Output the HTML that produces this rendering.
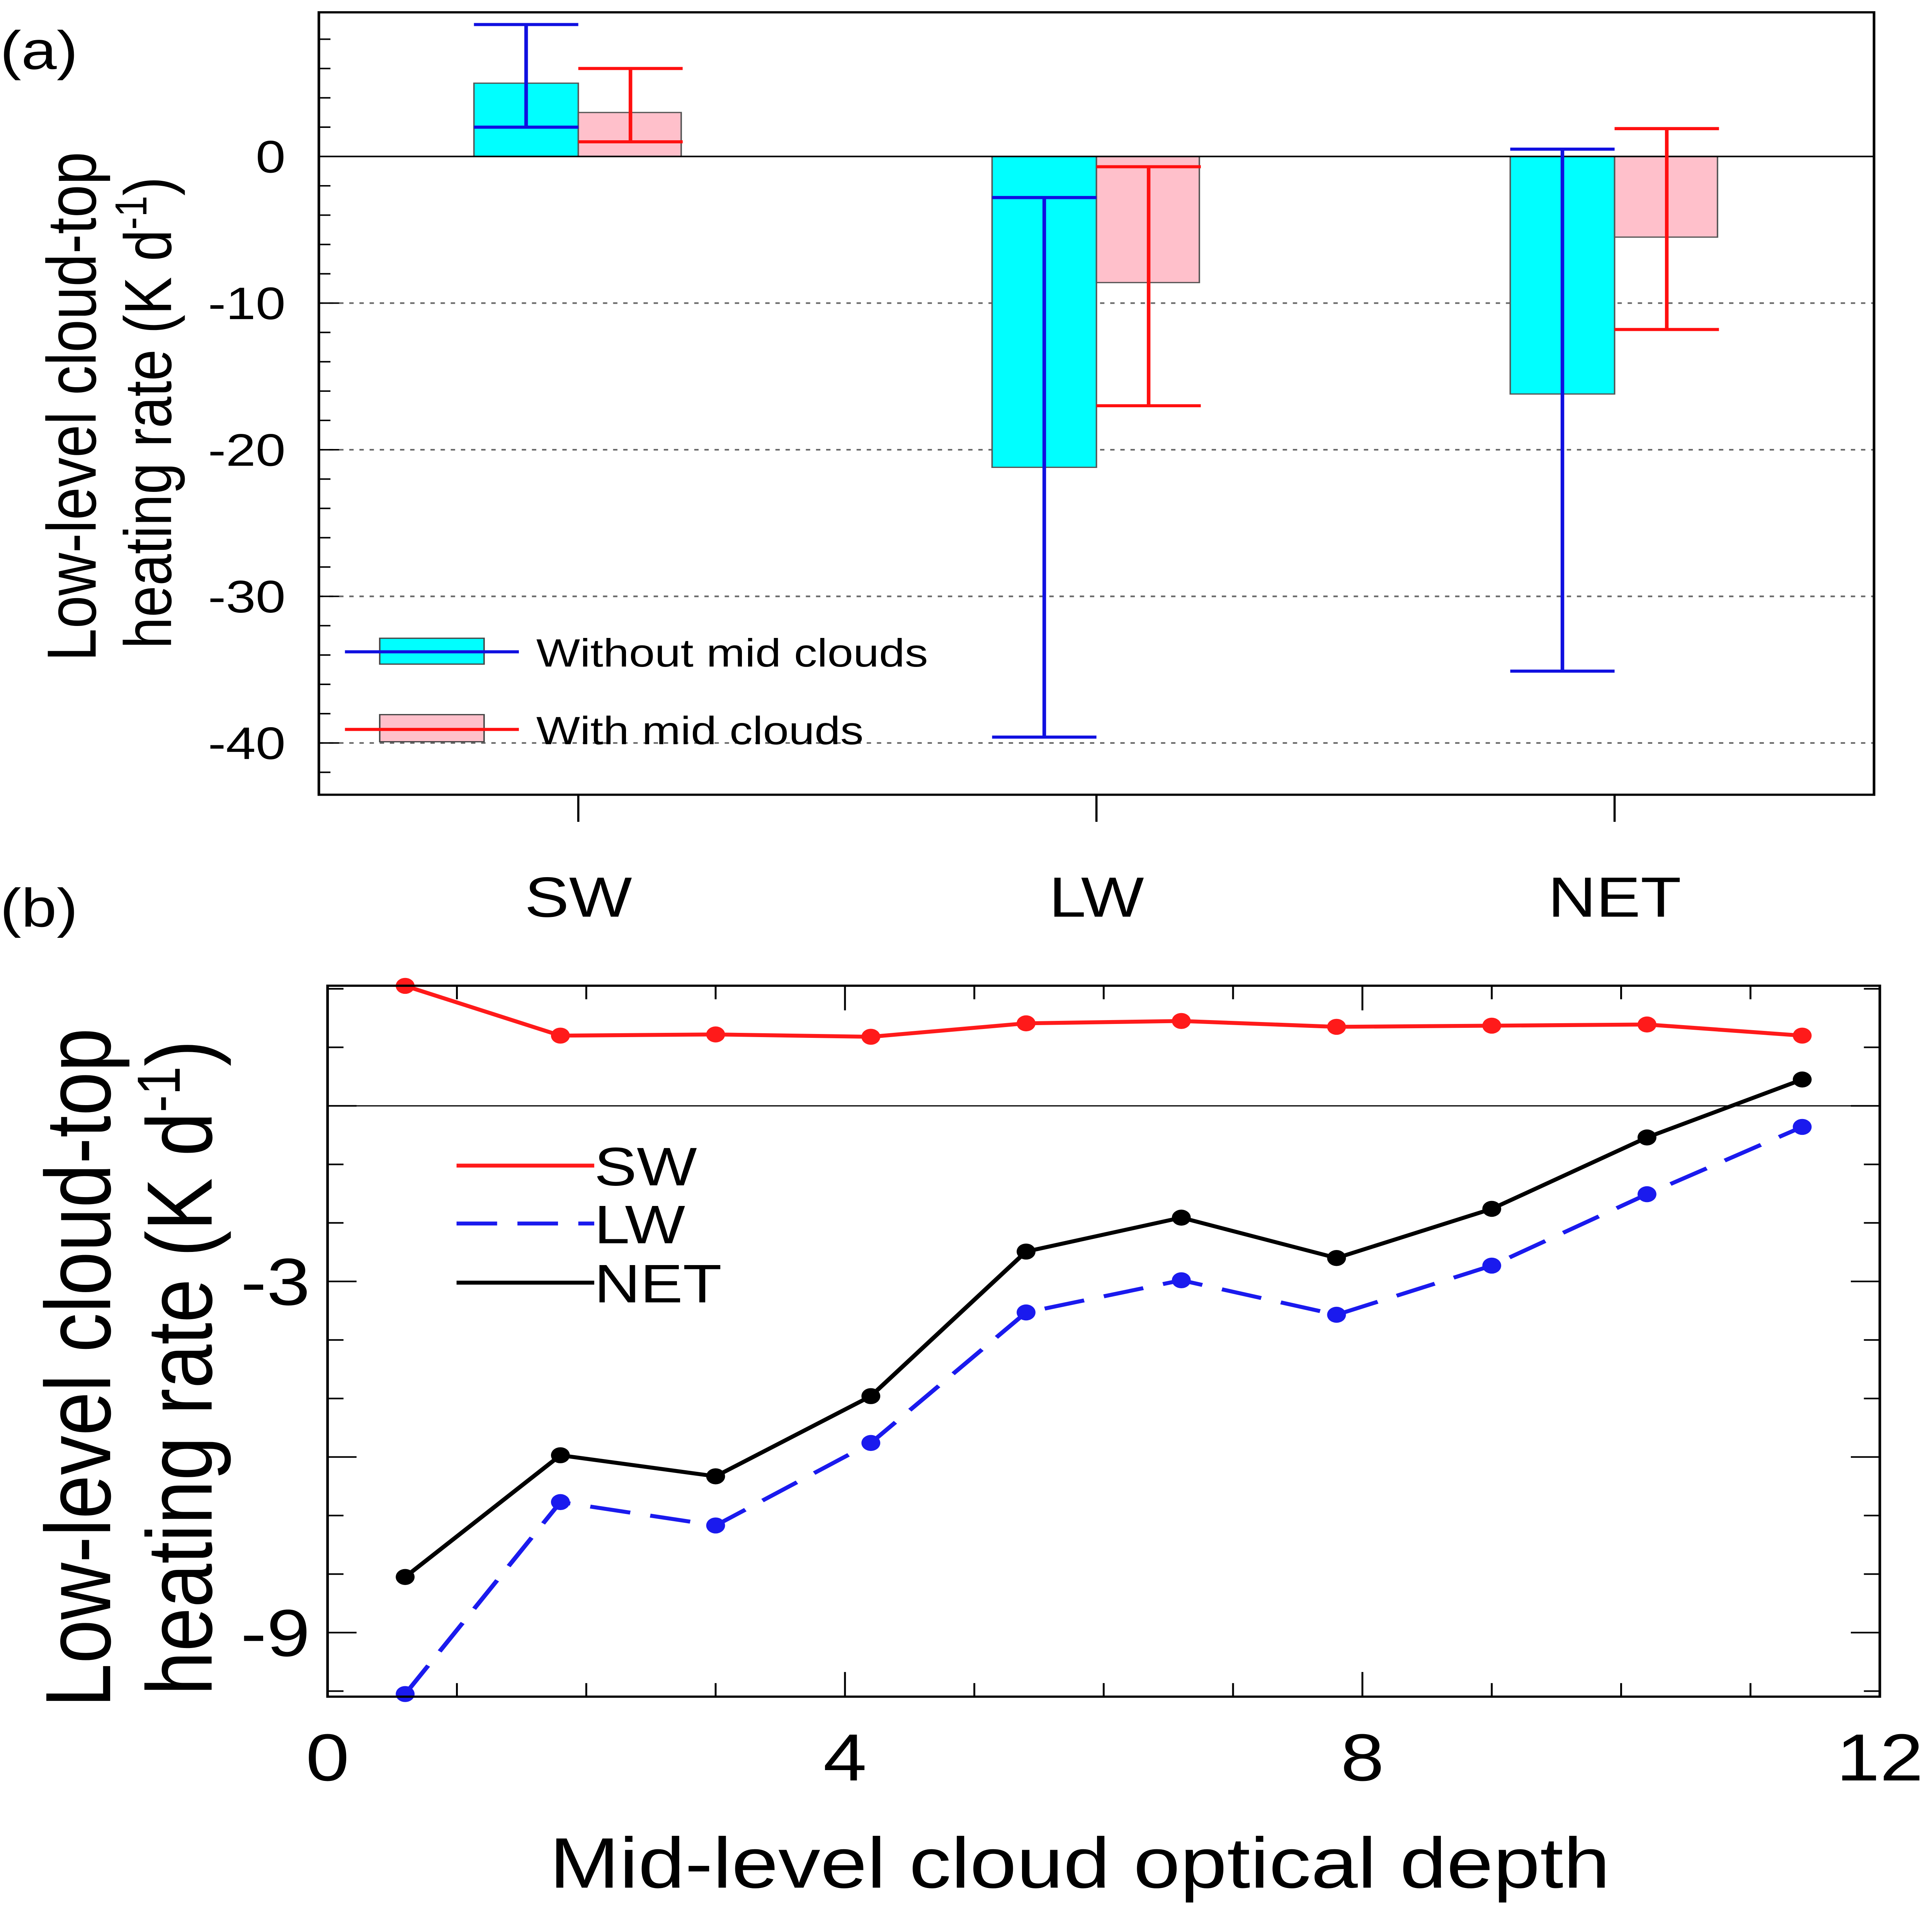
<!DOCTYPE html>
<html><head><meta charset="utf-8"><style>
html,body{margin:0;padding:0;background:#fff;width:100%;height:100%;overflow:hidden;}
svg{display:block;font-family:"Liberation Sans",Arial,sans-serif;position:fixed;left:0;top:0;width:100vw;height:100vh;}
</style></head><body>
<svg id="s" viewBox="0 0 1333 1568" preserveAspectRatio="none" xmlns="http://www.w3.org/2000/svg">
<rect width="1333" height="1568" fill="#fff"/>
<text x="0" y="56" font-size="44">(a)</text>
<text x="0" y="752" font-size="44">(b)</text>
<g id="ga"></g>
<g id="gb"></g>
</svg>
<script>
// Panel (a) data
const catsA = ["SW","LW","NET"];
const withoutVals = [5, -21.2, -16.2];
const withVals = [3, -8.6, -5.5];
const withoutCenter = [2, -2.8, 0.5];
const withoutUpper = [9, -2.8, 0.5];
const withoutLower = [2, -39.6, -35.1];
const withCenter = [1, -0.7, 1.9];
const withUpper = [6, -0.7, 1.9];
const withLower = [1, -17, -11.8];
const yTicksA = [0, -10, -20, -30, -40];
// Panel (b) data
const depthX = [0.6,1.8,3.0,4.2,5.4,6.6,7.8,9.0,10.2,11.4];
const swY = [2.05,1.2,1.22,1.18,1.41,1.45,1.35,1.37,1.39,1.2];
const lwY = [-10.05,-6.77,-7.17,-5.76,-3.53,-2.98,-3.57,-2.73,-1.51,-0.36];
const netY = [-8.05,-5.97,-6.33,-4.96,-2.49,-1.91,-2.6,-1.76,-0.54,0.45];
const xTicksB = [0,4,8,12];
const yTicksB = [-3,-9];

const NS="http://www.w3.org/2000/svg";
function mk(p,tag,at,txt){const e=document.createElementNS(NS,tag);for(const k in at)e.setAttribute(k,at[k]);if(txt!==undefined)e.textContent=txt;p.appendChild(e);return e;}

// ---- Panel A
const ga=document.getElementById('ga');
const L=220,R=1293,T=10,B=645;
const ya=v=>127-v*11.9;
const xa=i=>399+i*357.5;
for(const t of [-10,-20,-30,-40]){
  const l=mk(ga,'line',{x1:L,x2:R,y1:ya(t),y2:ya(t),stroke:'#666','stroke-width':1.3,'stroke-dasharray':'3,4'});
  
  
}
for(let v=8;v>=-42;v-=2){
  const big=v%10===0;
  const t=mk(ga,'line',{x1:L,x2:L+(big?14:8),y1:ya(v),y2:ya(v),stroke:'#000','stroke-width':1.2});
  
  
}
for(const v of yTicksA){
  const t=mk(ga,'text',{x:197,y:ya(v)+13,'font-size':37,'text-anchor':'end'},v===0?'0':String(v));
  
  
}
catsA.forEach((c,i)=>{
  const cx=xa(i);
  const b1=mk(ga,'rect',{x:cx-72,width:72,y:Math.min(ya(0),ya(withoutVals[i])),height:Math.abs(ya(withoutVals[i])-ya(0)),fill:'#00ffff',stroke:'#555','stroke-width':1});
  
  
  const b2=mk(ga,'rect',{x:cx,width:71,y:Math.min(ya(0),ya(withVals[i])),height:Math.abs(ya(withVals[i])-ya(0)),fill:'#ffc0cb',stroke:'#555','stroke-width':1});
  
  
  const tk=mk(ga,'line',{x1:cx,x2:cx,y1:B,y2:B+22,stroke:'#000','stroke-width':1.5});
  
  
  const lb=mk(ga,'text',{x:cx,y:744,'font-size':46,'text-anchor':'middle'},c);
  
  
});
mk(ga,'line',{x1:L,x2:R,y1:ya(0),y2:ya(0),stroke:'#000','stroke-width':1.3});
function err(g,cx,c,u,lo,col,name){
  const e=mk(g,'g',{stroke:col,'stroke-width':2.5,fill:'none'});
  
  
  mk(e,'line',{x1:cx,x2:cx,y1:ya(u),y2:ya(lo)});
  mk(e,'line',{x1:cx-36,x2:cx+36,y1:ya(u),y2:ya(u)});
  mk(e,'line',{x1:cx-36,x2:cx+36,y1:ya(lo),y2:ya(lo)});
  mk(e,'line',{x1:cx-36,x2:cx+36,y1:ya(c),y2:ya(c)});
}
catsA.forEach((c,i)=>{
  err(ga,xa(i)-36,withoutCenter[i],withoutUpper[i],withoutLower[i],'#1010e0','errorbar-without-'+c.toLowerCase());
  err(ga,xa(i)+36,withCenter[i],withUpper[i],withLower[i],'#ff1010','errorbar-with-'+c.toLowerCase());
});
mk(ga,'rect',{x:L,y:T,width:R-L,height:B-T,fill:'none',stroke:'#000','stroke-width':1.8});
// legend a
const lg=mk(ga,'g',{});


mk(lg,'rect',{x:262,y:518,width:72,height:21,fill:'#00ffff',stroke:'#444'});
mk(lg,'line',{x1:238,x2:358,y1:529,y2:529,stroke:'#1010e0','stroke-width':2.5});
mk(lg,'text',{x:370,y:541,'font-size':32},'Without  mid clouds');
mk(lg,'rect',{x:262,y:580,width:72,height:22,fill:'#ffc0cb',stroke:'#444'});
mk(lg,'line',{x1:238,x2:358,y1:592,y2:592,stroke:'#ff1010','stroke-width':2.5});
mk(lg,'text',{x:370,y:604,'font-size':32},'With mid clouds');
const yl=mk(ga,'text',{transform:'translate(66,330) rotate(-90)','font-size':48,'text-anchor':'middle'},'Low-level cloud-top');


const yl2=mk(ga,'text',{transform:'translate(118,335) rotate(-90)','font-size':46,'text-anchor':'middle'});
mk(yl2,'tspan',{},'heating   rate (K d');
mk(yl2,'tspan',{dy:-17,'font-size':31},'-1');
mk(yl2,'tspan',{dy:17},')');

// ---- Panel B
const gb=document.getElementById('gb');
const L2=226,R2=1297,T2=800,B2=1377;
const xb=v=>L2+v*89.25;
const yb=v=>897.5-v*47.5;
for(let v=1;v<12;v++){
  const big=v%4===0;
  for(const [y0,d] of [[B2,-1],[T2,1]]){
    const t=mk(gb,'line',{x1:xb(v),x2:xb(v),y1:y0,y2:y0+d*(big?20:11),stroke:'#000','stroke-width':1.3});
    
    
  }
}
for(let v=2;v>=-10;v--){
  const big=v%3===0;
  for(const [x0,d] of [[L2,1],[R2,-1]]){
    const t=mk(gb,'line',{x1:x0,x2:x0+d*(big?20:11),y1:yb(v),y2:yb(v),stroke:'#000','stroke-width':1.3});
    
    
  }
}
for(const v of xTicksB){
  const t=mk(gb,'text',{x:xb(v),y:1445,'font-size':54,'text-anchor':'middle'},String(v));
  
  
}
for(const v of yTicksB){
  const t=mk(gb,'text',{x:214,y:yb(v)+19,'font-size':54,'text-anchor':'end'},String(v));
  
  
}
mk(gb,'line',{x1:L2,x2:R2,y1:yb(0),y2:yb(0),stroke:'#000','stroke-width':1});
function series(ys,col,dash,name){
  const g=mk(gb,'g',{});
  
  
  const pts=depthX.map((x,i)=>xb(x)+','+yb(ys[i])).join(' ');
  const at={points:pts,fill:'none',stroke:col,'stroke-width':3.2};
  if(dash)at['stroke-dasharray']=dash;
  mk(g,'polyline',at);
  depthX.forEach((x,i)=>{
    const c=mk(g,'circle',{cx:xb(x),cy:yb(ys[i]),r:6.5,fill:col});
    
    
  });
}
series(swY,'#ff1a1a',null,'sw-line');
series(lwY,'#1a1aee','28,14','lw-line');
series(netY,'#000',null,'net-line');
mk(gb,'rect',{x:L2,y:T2,width:R2-L2,height:B2-T2,fill:'none',stroke:'#000','stroke-width':1.8});
const lb=mk(gb,'g',{});


mk(lb,'line',{x1:315,x2:410,y1:946,y2:946,stroke:'#ff1a1a','stroke-width':3.2});
mk(lb,'text',{x:410,y:962,'font-size':44},'SW');
mk(lb,'line',{x1:315,x2:410,y1:993,y2:993,stroke:'#1a1aee','stroke-width':3.2,'stroke-dasharray':'28,14'});
mk(lb,'text',{x:410,y:1009,'font-size':44},'LW');
mk(lb,'line',{x1:315,x2:410,y1:1041,y2:1041,stroke:'#000','stroke-width':3.2});
mk(lb,'text',{x:410,y:1057,'font-size':44},'NET');
const xt=mk(gb,'text',{x:745,y:1532,'font-size':58,'text-anchor':'middle'},'Mid-level cloud optical depth');


const y1=mk(gb,'text',{transform:'translate(76,1110) rotate(-90)','font-size':64,'text-anchor':'middle'},'Low-level cloud-top');


const y2=mk(gb,'text',{transform:'translate(146,1110) rotate(-90)','font-size':64,'text-anchor':'middle'});
mk(y2,'tspan',{},'heating rate (K d');
mk(y2,'tspan',{dy:-22,'font-size':42},'-1');
mk(y2,'tspan',{dy:22},')');
</script>
</body></html>
